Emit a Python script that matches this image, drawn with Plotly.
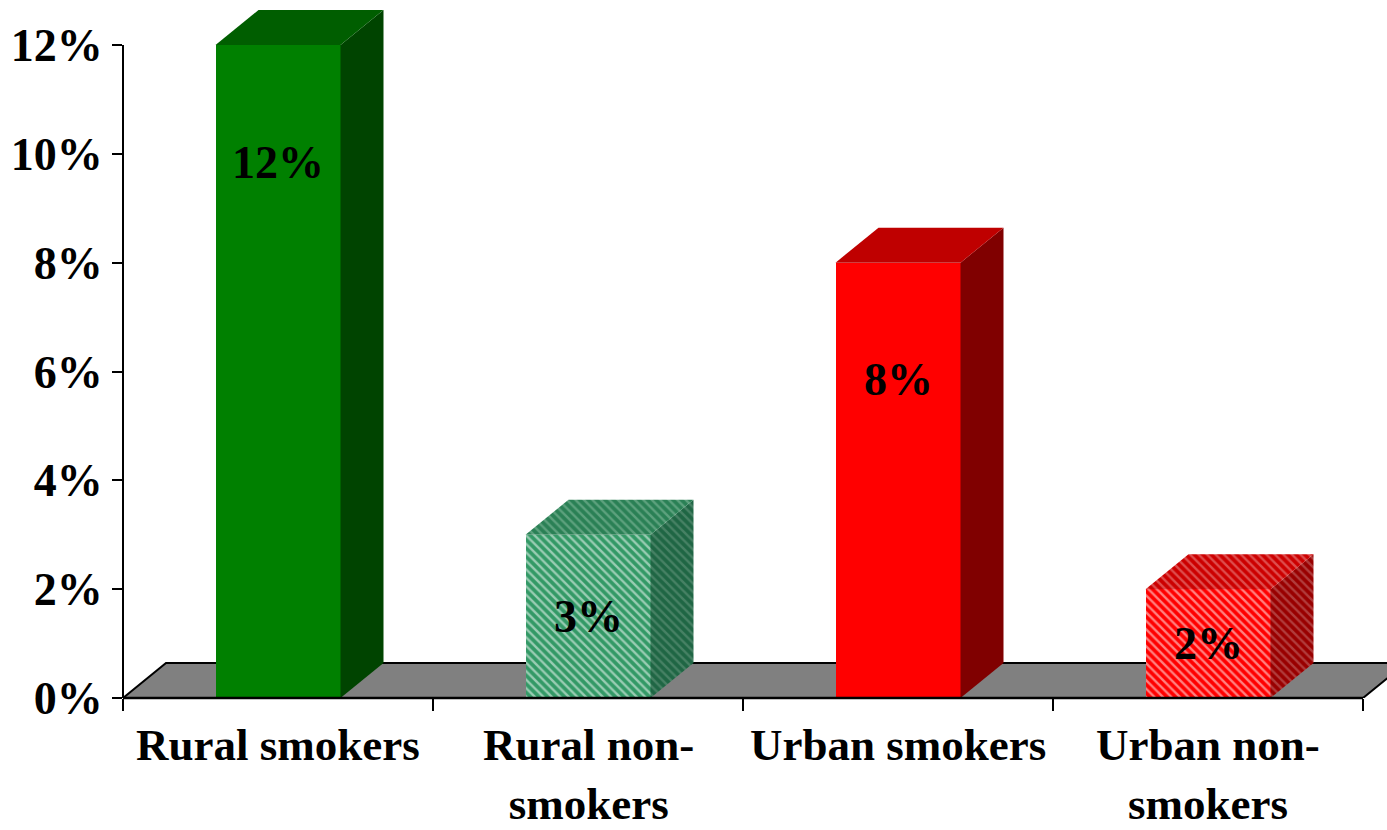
import plotly.graph_objects as go

# ---------------- data ----------------
categories = ["Rural smokers", "Rural non-smokers", "Urban smokers", "Urban non-smokers"]
category_labels = ["Rural smokers", "Rural non-<br>smokers", "Urban smokers", "Urban non-<br>smokers"]
values = [0.12, 0.03, 0.08, 0.02]
value_labels = ["12%", "3%", "8%", "2%"]
y_tick_vals = [0, 0.02, 0.04, 0.06, 0.08, 0.10, 0.12]
y_tick_text = ["0%", "2%", "4%", "6%", "8%", "10%", "12%"]

# ---------------- styles ----------------
FONT = "Liberation Serif, Times New Roman, serif"
FS = 46
FS_X = 45
front_colors = ["#008000", "#339966", "#FF0000", "#FF0000"]
side_colors = ["#004400", "#1F6644", "#800000", "#990000"]
top_colors = ["#005E00", "#2A8055", "#BF0000", "#CC0000"]
hatched = [False, True, False, True]
stripe_front = ["#FFFFFF", "#C4E3D3", "#FFFFFF", "#FFB8B8"]
stripe_side = ["#FFFFFF", "#6E9C84", "#FFFFFF", "#C87878"]
stripe_top = ["#FFFFFF", "#8FC2A6", "#FFFFFF", "#EE9A9A"]

W, H = 1387, 830
ML, MR, MT, MB = 123, 0, 5, 132
px_per_cat = 310.0
plot_w = W - ML - MR
plot_h = H - MT - MB
x_min = -0.5
x_max = x_min + plot_w / px_per_cat
y_px_per_unit = (698 - 45) / 0.12
y_max = plot_h / y_px_per_unit

bar_w = 125 / px_per_cat
dx = 43 / px_per_cat          # 3D depth (x)
dy = 35 / y_px_per_unit       # 3D depth (y)

xs = list(range(len(categories)))

fig = go.Figure()

# front faces
fig.add_trace(go.Bar(
    x=xs, y=values, width=bar_w,
    marker=dict(
        color=front_colors,
        line=dict(width=0),
        pattern=dict(
            shape=["\\" if h else "" for h in hatched],
            fgcolor=stripe_front,
            size=6, solidity=0.4,
        ),
    ),
    hoverinfo="skip", showlegend=False,
))

# side and top faces
for i, v in enumerate(values):
    xr = xs[i] + bar_w / 2
    xl = xs[i] - bar_w / 2
    pat_side = dict(shape="\\" if hatched[i] else "", fgcolor=stripe_side[i],
                    bgcolor=side_colors[i], size=6, solidity=0.4)
    pat_top = dict(shape="\\" if hatched[i] else "", fgcolor=stripe_top[i],
                   bgcolor=top_colors[i], size=6, solidity=0.4)
    fig.add_trace(go.Scatter(
        x=[xr, xr + dx, xr + dx, xr, xr],
        y=[0, dy, v + dy, v, 0],
        mode="lines", fill="toself", fillcolor=side_colors[i],
        fillpattern=pat_side if hatched[i] else None,
        line=dict(width=0, color=side_colors[i]),
        hoverinfo="skip", showlegend=False,
    ))
    fig.add_trace(go.Scatter(
        x=[xl, xl + dx, xr + dx, xr, xl],
        y=[v, v + dy, v + dy, v, v],
        mode="lines", fill="toself", fillcolor=top_colors[i],
        fillpattern=pat_top if hatched[i] else None,
        line=dict(width=0, color=top_colors[i]),
        hoverinfo="skip", showlegend=False,
    ))

shapes = []
# floor
x_end = xs[-1] + 0.5
shapes.append(dict(
    type="path", xref="x", yref="y", layer="below",
    path=f"M {x_min},0 L {x_min + dx},{dy} L {x_end + dx},{dy} L {x_end},0 Z",
    fillcolor="#808080", line=dict(color="black", width=2),
))
# x axis line
shapes.append(dict(type="line", xref="x", yref="paper", x0=x_min, x1=x_end, y0=0, y1=0,
                   line=dict(color="black", width=2.5), layer="above"))
# y axis line
shapes.append(dict(type="line", xref="paper", yref="y", x0=0, x1=0, y0=0, y1=max(y_tick_vals),
                   line=dict(color="black", width=2), layer="above"))

annotations = []
for i, lab in enumerate(category_labels):
    annotations.append(dict(
        x=xs[i], y=0, xref="x", yref="paper", yanchor="top", xanchor="center",
        yshift=-21, text=lab, showarrow=False, align="center", borderpad=0,
        font=dict(family=FONT, size=FS_X, color="black", weight="bold"),
    ))
for i, (v, t) in enumerate(zip(values, value_labels)):
    annotations.append(dict(
        x=xs[i], y=max(v / 2, v - 0.0215), xref="x", yref="y",
        text=t, showarrow=False, xanchor="center", yanchor="middle",
        font=dict(family=FONT, size=FS, color="black", weight="bold"),
    ))

fig.update_layout(
    width=W, height=H,
    margin=dict(l=ML, r=MR, t=MT, b=MB, pad=0),
    paper_bgcolor="white", plot_bgcolor="white",
    showlegend=False,
    bargap=0,
    xaxis=dict(range=[x_min, x_max], showgrid=False, zeroline=False, showline=False,
               tickvals=[x - 0.5 for x in xs] + [xs[-1] + 0.5],
               ticktext=[""] * (len(xs) + 1),
               ticks="outside", ticklen=12, tickwidth=2, tickcolor="black"),
    yaxis=dict(range=[0, y_max], showgrid=False, zeroline=False, showline=False,
               tickvals=y_tick_vals, ticktext=y_tick_text,
               ticks="outside", ticklen=10, tickwidth=2, tickcolor="black",
               tickfont=dict(family=FONT, size=FS, color="black", weight="bold")),
    shapes=shapes,
    annotations=annotations,
)

fig.write_html("out.html")
